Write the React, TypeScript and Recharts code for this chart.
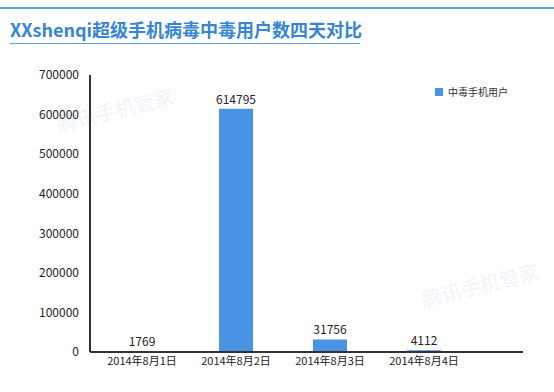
import React from 'react'
import { BarChart, Bar, XAxis, YAxis, LabelList, Legend } from 'recharts'

const dates = ['2014年8月1日', '2014年8月2日', '2014年8月3日', '2014年8月4日']
const infected = [1769, 614795, 31756, 4112]
const yTicks = [0, 100000, 200000, 300000, 400000, 500000, 600000, 700000]
const seriesName = '中毒手机用户'

const BLUE = '#4a93e4'
const FONT = '"Noto Sans CJK SC", "Noto Sans", sans-serif'

const data = dates.map((d, i) => ({ date: d, users: infected[i] }))

function LegendBox({ payload }: any) {
    return (
        <div style={{ display: 'flex', alignItems: 'center', fontFamily: FONT, fontSize: 10, color: '#333' }}>
            {(payload || []).map((p: any) => (
                <React.Fragment key={p.value}>
                    <span style={{ width: 8, height: 8, background: BLUE, marginRight: 5, display: 'inline-block' }} />
                    <span>{p.value}</span>
                </React.Fragment>
            ))}
        </div>
    )
}

export default function App() {
    return (
        <div style={{ position: 'absolute', left: 0, top: 0, width: 554, height: 392, background: '#fff', overflow: 'hidden', fontFamily: FONT }}>
            {/* top band + title */}
            <div style={{ position: 'absolute', left: 0, top: 7, width: 554, height: 2, background: '#5b9fdc' }} />
            <div style={{ position: 'absolute', left: 10, top: 17, fontSize: 18, fontWeight: 700, color: '#3685d6', lineHeight: '24px', whiteSpace: 'nowrap' }}>
                XXshenqi超级手机病毒中毒用户数四天对比
            </div>
            <div style={{ position: 'absolute', left: 10, top: 43, width: 350, height: 1, background: '#5b9fdc' }} />

            {/* faint watermarks */}
            <div style={{ position: 'absolute', left: 55, top: 95, fontSize: 20, color: '#f0f4fa', transform: 'rotate(-14deg)', whiteSpace: 'nowrap' }}>腾讯手机管家</div>
            <div style={{ position: 'absolute', left: 420, top: 270, fontSize: 20, color: '#f0f4fa', transform: 'rotate(-14deg)', whiteSpace: 'nowrap' }}>腾讯手机管家</div>

            <div style={{ position: 'absolute', left: 0, top: 0 }}>
                <BarChart width={554} height={392} data={data} margin={{ top: 75, right: 31, bottom: 0, left: 0 }}>
                    <XAxis
                        dataKey="date"
                        height={40}
                        padding={{ left: 5, right: 52 }}
                        tickLine={false}
                        tickSize={0}
                        tickMargin={5}
                        axisLine={{ stroke: '#333', strokeWidth: 2 }}
                        tick={{ fill: '#222', fontSize: 11, fontFamily: FONT }}
                        interval={0}
                    />
                    <YAxis
                        width={90}
                        domain={[0, 700000]}
                        ticks={yTicks}
                        tickLine={false}
                        tickSize={6}
                        tickMargin={5}
                        axisLine={{ stroke: '#333', strokeWidth: 2 }}
                        tick={{ fill: '#222', fontSize: 12, fontFamily: FONT }}
                    />
                    <Legend
                        layout="horizontal"
                        verticalAlign="middle"
                        align="center"
                        content={<LegendBox />}
                        wrapperStyle={{ top: 84, left: 435, width: 110 }}
                    />
                    <Bar dataKey="users" name={seriesName} fill={BLUE} barSize={34} isAnimationActive={false}>
                        <LabelList dataKey="users" position="top" offset={5} style={{ fill: '#222', fontSize: 12, fontFamily: FONT }} />
                    </Bar>
                </BarChart>
            </div>
        </div>
    )
}
